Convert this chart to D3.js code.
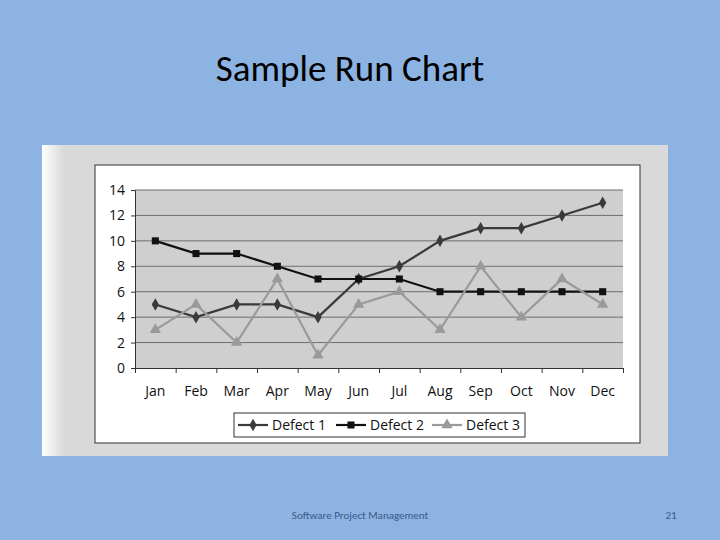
<!DOCTYPE html><html><head><meta charset="utf-8"><script src="https://cdn.jsdelivr.net/npm/d3@7"></script>
<style>body{margin:0;background:#8db3e2;}svg{display:block}</style></head><body><svg width="720" height="540"></svg>
<script>
const months=["Jan","Feb","Mar","Apr","May","Jun","Jul","Aug","Sep","Oct","Nov","Dec"];
const defect1=[5,4,5,5,4,7,8,10,11,11,12,13];
const defect2=[10,9,9,8,7,7,7,6,6,6,6,6];
const defect3=[3,5,2,7,1,5,6,3,8,4,7,5];
const yTicks=[0,2,4,6,8,10,12,14];
const svg=d3.select("svg");
const font="'Open Sans','DejaVu Sans',sans-serif";
svg.append("text").attr("x",350).attr("y",81).attr("text-anchor","middle").attr("font-family","Carlito,Calibri,'Open Sans',sans-serif").attr("font-size",37).attr("fill","#000").text("Sample Run Chart");
// panel
const g0=svg.append("defs").append("linearGradient").attr("id","lg");
g0.append("stop").attr("offset","0").attr("stop-color","#ffffff");
g0.append("stop").attr("offset","1").attr("stop-color","#d9d9d9");
svg.append("rect").attr("x",42).attr("y",145).attr("width",626).attr("height",311).attr("fill","#d9d9d9");
svg.append("rect").attr("x",42).attr("y",145).attr("width",22).attr("height",311).attr("fill","url(#lg)");
svg.append("rect").attr("x",95).attr("y",165).attr("width",545).attr("height",278).attr("fill","#fff").attr("stroke","#333");
const L=135,R=623,T=190,B=368;
const x=d3.scalePoint().domain(months).range([L,R]).padding(0.5);
const y=d3.scaleLinear().domain([0,14]).range([B,T]);
svg.append("rect").attr("x",L).attr("y",T).attr("width",R-L).attr("height",B-T).attr("fill","#cfcfcf");
svg.selectAll(".gl").data(yTicks.slice(1)).join("line").attr("x1",L).attr("x2",R).attr("y1",d=>y(d)).attr("y2",d=>y(d)).attr("stroke","#6e6e6e").attr("stroke-width",1);
const ya=svg.append("g").attr("transform",`translate(${L},0)`).call(d3.axisLeft(y).tickValues(yTicks).tickSize(4).tickPadding(6));
const xa=svg.append("g").attr("transform",`translate(0,${B})`).call(d3.axisBottom(d3.scaleLinear().domain([0,12]).range([L,R])).ticks(12).tickSize(5).tickFormat(""));
[ya,xa].forEach(a=>{a.select(".domain").attr("stroke","#333");a.selectAll("line").attr("stroke","#333");a.selectAll("text").attr("font-family",font).attr("font-size",14).attr("fill","#111");});
svg.selectAll(".xl").data(months).join("text").attr("x",d=>x(d)).attr("y",396).attr("text-anchor","middle").attr("font-family",font).attr("font-size",14).attr("fill","#111").text(d=>d);
const series=[{name:"Defect 1",v:defect1,c:"#3a3a3a",s:d3.symbolDiamond,sz:45},{name:"Defect 2",v:defect2,c:"#111",s:d3.symbolSquare,sz:50},{name:"Defect 3",v:defect3,c:"#9a9a9a",s:d3.symbolTriangle,sz:55}];
const line=d3.line().x((d,i)=>x(months[i])).y(d=>y(d));
series.forEach(s=>{
 svg.append("path").attr("d",line(s.v)).attr("fill","none").attr("stroke",s.c).attr("stroke-width",2.2);
 svg.selectAll(null).data(s.v).join("path").attr("transform",(d,i)=>`translate(${x(months[i])},${y(d)})`).attr("d",d3.symbol().type(s.s).size(s.sz)).attr("fill",s.c);
});
// legend
svg.append("rect").attr("x",234).attr("y",413).attr("width",291).attr("height",24).attr("fill","#fff").attr("stroke","#333");
const lx=[238,336,432];
series.forEach((s,i)=>{
 svg.append("line").attr("x1",lx[i]).attr("x2",lx[i]+30).attr("y1",425).attr("y2",425).attr("stroke",s.c).attr("stroke-width",2.2);
 svg.append("path").attr("transform",`translate(${lx[i]+15},425)`).attr("d",d3.symbol().type(s.s).size(s.sz)).attr("fill",s.c);
 svg.append("text").attr("x",lx[i]+34).attr("y",430).attr("font-family",font).attr("font-size",14).attr("fill","#111").text(s.name);
});
svg.append("text").attr("x",360).attr("y",519).attr("text-anchor","middle").attr("font-family","Carlito,'Open Sans',sans-serif").attr("font-size",11).attr("fill","#3a5a8a").text("Software Project Management");
svg.append("text").attr("x",671).attr("y",519).attr("text-anchor","middle").attr("font-family","Carlito,'Open Sans',sans-serif").attr("font-size",11).attr("fill","#3a5a8a").text("21");
</script></body></html>
